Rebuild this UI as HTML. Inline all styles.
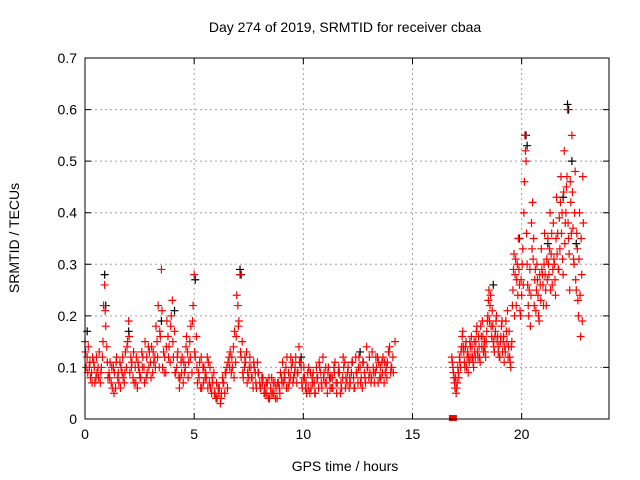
<!DOCTYPE html>
<html><head><meta charset="utf-8"><style>
body{margin:0;background:#fff}
svg{display:block;font-family:"Liberation Sans",sans-serif;font-size:14px}
</style></head><body>
<svg id="chart" width="640" height="480" viewBox="0 0 640 480" xmlns="http://www.w3.org/2000/svg">
<rect width="640" height="480" fill="#fff"/>
<text x="345" y="32" text-anchor="middle">Day 274 of 2019, SRMTID for receiver cbaa</text>
<text x="345" y="471" text-anchor="middle">GPS time / hours</text>
<text transform="translate(19,238) rotate(-90)" text-anchor="middle">SRMTID / TECUs</text>
<g id="grid"></g>
<g id="ticks"></g>
<g id="marks"></g>
<rect x="85" y="58" width="524" height="361" fill="none" stroke="#000" stroke-width="1"/>
</svg>
<script>
const xTicks=[0,5,10,15,20];
const yTicks=[0,0.1,0.2,0.3,0.4,0.5,0.6,0.7];
const yTickLabels=["0","0.1","0.2","0.3","0.4","0.5","0.6","0.7"];
const segAStart=0.0, segAStep=0.1;
const segAValues=[0.15,0.12,0.10,0.09,0.11,0.08,0.10,0.07,0.12,0.26,0.14,
0.09,0.07,0.10,0.06,0.08,0.11,0.09,0.07,0.10,0.19,
0.12,0.08,0.10,0.06,0.09,0.13,0.10,0.08,0.14,0.11,
0.09,0.12,0.15,0.10,0.29,0.13,0.09,0.16,0.11,0.23,
0.17,0.10,0.08,0.11,0.07,0.10,0.13,0.15,0.09,0.28,
0.16,0.09,0.06,0.10,0.08,0.12,0.07,0.05,0.09,0.04,
0.06,0.03,0.08,0.05,0.10,0.12,0.09,0.14,0.11,0.22,
0.28,0.15,0.10,0.13,0.08,0.10,0.06,0.09,0.11,0.07,
0.08,0.05,0.07,0.04,0.06,0.05,0.07,0.04,0.06,0.08,
0.07,0.10,0.06,0.08,0.11,0.09,0.07,0.14,0.10,0.08,
0.06,0.09,0.05,0.08,0.07,0.10,0.06,0.09,0.12,0.07,
0.05,0.08,0.06,0.10,0.07,0.09,0.05,0.08,0.11,0.07,
0.06,0.09,0.08,0.12,0.07,0.10,0.06,0.09,0.14,0.08,
0.07,0.10,0.09,0.12,0.08,0.11,0.07,0.10,0.13,0.09,0.12,0.15];
const segA2Start=0.05, segA2Step=0.1;
const segA2Values=[0.10,0.14,0.08,0.12,0.07,0.09,0.13,0.10,0.22,0.18,
0.08,0.11,0.06,0.09,0.12,0.07,0.10,0.08,0.13,0.15,
0.09,0.11,0.07,0.12,0.10,0.08,0.12,0.15,0.09,0.13,
0.14,0.11,0.18,0.22,0.16,0.10,0.12,0.19,0.14,0.20,
0.12,0.09,0.13,0.08,0.12,0.09,0.16,0.11,0.18,0.22,
0.12,0.07,0.11,0.06,0.10,0.08,0.11,0.06,0.07,0.05,
0.04,0.06,0.05,0.07,0.09,0.11,0.13,0.10,0.17,0.24,
0.19,0.12,0.08,0.11,0.09,0.12,0.08,0.10,0.06,0.09,
0.06,0.08,0.05,0.07,0.04,0.08,0.05,0.06,0.07,0.09,
0.11,0.08,0.12,0.07,0.10,0.08,0.12,0.09,0.11,0.06,
0.08,0.05,0.10,0.06,0.09,0.05,0.08,0.10,0.06,0.09,
0.07,0.10,0.08,0.06,0.11,0.07,0.09,0.06,0.10,0.08,
0.10,0.07,0.11,0.06,0.09,0.12,0.08,0.11,0.07,0.10,
0.09,0.13,0.07,0.10,0.11,0.08,0.12,0.09,0.11,0.14,0.10];
const segA3Start=0.025, segA3Step=0.1;
const segA3Values=[0.13,0.09,0.11,0.07,0.10,0.12,0.08,0.09,0.15,0.21,0.11,
0.08,0.10,0.05,0.11,0.09,0.06,0.12,0.09,0.14,0.16,
0.10,0.13,0.07,0.11,0.08,0.10,0.07,0.12,0.10,0.08,
0.13,0.10,0.12,0.17,0.21,0.09,0.14,0.12,0.18,0.15,
0.09,0.12,0.06,0.09,0.11,0.14,0.08,0.12,0.19,0.13,
0.10,0.08,0.12,0.07,0.09,0.06,0.10,0.08,0.05,0.07,
0.05,0.04,0.07,0.09,0.06,0.10,0.12,0.08,0.16,0.18,
0.13,0.09,0.12,0.07,0.10,0.08,0.11,0.07,0.09,0.06,
0.07,0.06,0.05,0.08,0.05,0.07,0.04,0.07,0.05,0.07,
0.09,0.06,0.09,0.12,0.07,0.10,0.09,0.11,0.07,0.10,
0.07,0.06,0.09,0.07,0.05,0.08,0.11,0.07,0.08,0.10,
0.09,0.06,0.08,0.09,0.05,0.10,0.07,0.12,0.06,0.09,
0.08,0.11,0.06,0.09,0.10,0.07,0.11,0.08,0.10,0.12,
0.08,0.09,0.12,0.07,0.10,0.09,0.11,0.08,0.13,0.10,0.09];
const segBStart=16.8, segBStep=0.05;
const segBValues=[0.12,0.10,0.08,0.06,0.05,0.07,0.09,0.12,0.10,0.14,0.17,
0.13,0.10,0.15,0.12,0.09,0.11,0.14,0.16,0.12,0.10,0.13,
0.15,0.18,0.12,0.14,0.11,0.16,0.19,0.13,0.15,0.12,0.17,
0.20,0.25,0.22,0.18,0.21,0.15,0.13,0.17,0.20,0.16,0.14,
0.12,0.16,0.19,0.15,0.11,0.13,0.17,0.21,0.14,0.12,0.10,
0.15,0.25,0.32,0.28,0.22,0.30,0.35,0.26,0.20,0.24,0.33,
0.40,0.55,0.50,0.30,0.22,0.25,0.18,0.38,0.42,0.35,0.27,
0.21,0.30,0.24,0.19,0.26,0.33,0.28,0.22,0.36,0.25,0.31,
0.35,0.28,0.40,0.32,0.26,0.38,0.30,0.24,0.43,0.36,0.29,
0.33,0.47,0.40,0.28,0.52,0.38,0.45,0.60,0.35,0.25,0.42,
0.55,0.37,0.30,0.48,0.25,0.33,0.20,0.40,0.16,0.28,0.47];
const segB2Start=16.825, segB2Step=0.05;
const segB2Values=[0.11,0.09,0.07,0.08,0.06,0.10,0.08,0.11,0.13,0.16,0.14,
0.11,0.14,0.10,0.13,0.12,0.15,0.12,0.14,0.11,0.15,0.12,
0.17,0.13,0.16,0.12,0.18,0.14,0.16,0.14,0.13,0.15,0.19,
0.23,0.19,0.24,0.16,0.18,0.14,0.16,0.19,0.15,0.13,0.12,
0.15,0.18,0.13,0.16,0.14,0.19,0.15,0.12,0.17,0.11,0.14,
0.22,0.29,0.20,0.31,0.27,0.24,0.29,0.21,0.27,0.30,0.26,
0.46,0.52,0.36,0.26,0.20,0.29,0.24,0.33,0.31,0.22,0.29,
0.25,0.27,0.20,0.28,0.23,0.29,0.26,0.30,0.28,0.22,0.27,
0.30,0.33,0.25,0.36,0.29,0.31,0.27,0.35,0.32,0.29,0.39,
0.42,0.36,0.31,0.44,0.34,0.40,0.47,0.38,0.32,0.46,0.36,
0.44,0.31,0.40,0.27,0.36,0.23,0.31,0.24,0.35,0.19,0.38];
const blackTimes=[0.1,0.9,0.95,2.0,3.5,4.1,5.05,7.1,7.15,9.9,12.6,18.7,19.9,20.2,20.25,21.2,21.9,22.1,22.15,22.3,22.5];
const blackValues=[0.17,0.28,0.22,0.17,0.19,0.21,0.27,0.29,0.28,0.12,0.13,0.26,0.35,0.55,0.53,0.34,0.43,0.61,0.60,0.50,0.34];
const gapTimes=[16.85];
const gapValues=[0.0];

const X0=85,X1=609,Y0=419,Y1=58,XMAX=24,YMAX=0.7;
const sx=t=>X0+(X1-X0)*t/XMAX;
const sy=v=>Y0-(Y0-Y1)*v/YMAX;
const NS="http://www.w3.org/2000/svg";
const grid=document.getElementById('grid'),ticks=document.getElementById('ticks'),marks=document.getElementById('marks');
function mk(tag,attrs,parent){const e=document.createElementNS(NS,tag);for(const k in attrs)e.setAttribute(k,attrs[k]);parent.appendChild(e);return e;}
xTicks.forEach(t=>{
  const x=sx(t);
  if(t>0){const g=mk('line',{x1:x,x2:x,y1:Y1,y2:Y0,stroke:'#a0a0a0','stroke-dasharray':'2,3'},grid);
  
  }
  const tk=mk('path',{d:`M${x},${Y0}v-6M${x},${Y1}v6`,stroke:'#000'},ticks);
  
  
  const lb=mk('text',{x:x,y:Y0+20,'text-anchor':'middle'},ticks);lb.textContent=String(t);
  
  
});
yTicks.forEach((v,i)=>{
  const y=sy(v);
  if(v>0&&v<YMAX){const g=mk('line',{x1:X0,x2:X1,y1:y,y2:y,stroke:'#a0a0a0','stroke-dasharray':'2,3'},grid);
  
  }
  const tk=mk('path',{d:`M${X0},${y}h6M${X1},${y}h-6`,stroke:'#000'},ticks);
  
  
  const lb=mk('text',{x:X0-8,y:y+5,'text-anchor':'end'},ticks);lb.textContent=yTickLabels[i];
  
  
});
function plus(t,v,color,name){
  const x=sx(t),y=sy(v);
  const p=mk('path',{d:`M${x-4},${y}h8M${x},${y-4}v8`,stroke:color,'stroke-width':1.2},marks);
  
  
}
blackTimes.forEach((t,i)=>plus(t,blackValues[i],'#000','black-point'));
function seg(start,step,vals){vals.forEach((v,i)=>plus(start+step*i,v,'#f00','red-point'));}
seg(segAStart,segAStep,segAValues);
seg(segA2Start,segA2Step,segA2Values);
seg(segA3Start,segA3Step,segA3Values);
seg(segBStart,segBStep,segBValues);
seg(segB2Start,segB2Step,segB2Values);
gapTimes.forEach((t,i)=>{
  const r=mk('rect',{x:sx(t)-4,y:sy(gapValues[i])-4,width:8,height:6,fill:'#f00'},marks);
  
  
});
</script>
</body></html>
